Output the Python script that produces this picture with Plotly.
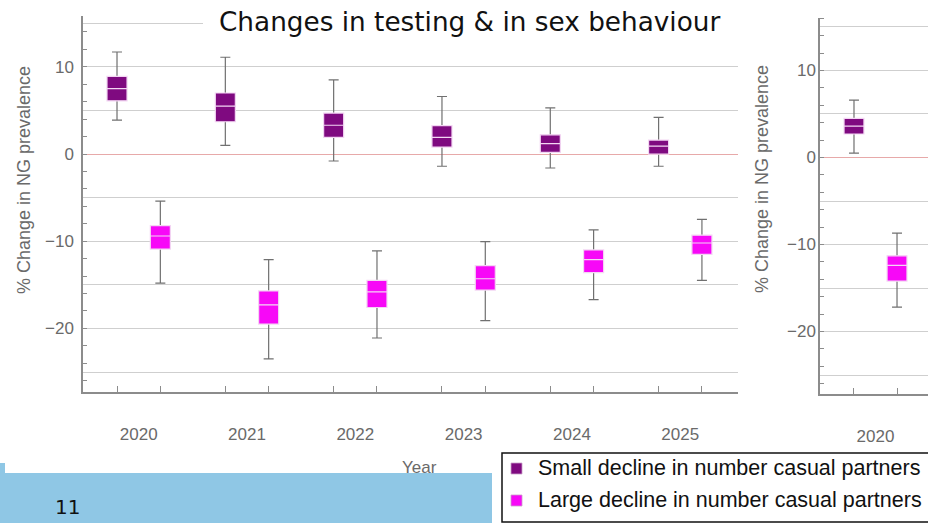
import plotly.graph_objects as go

# ---- data -------------------------------------------------------------
years = [2020, 2021, 2022, 2023, 2024, 2025]
year_labels = ["2020", "2021", "2022", "2023", "2024", "2025"]

series_names = [
    "Small decline in number casual partners",
    "Large decline in number casual partners",
]

# small decline in casual partners (box summary per year)
small_upper = [11.7, 11.1, 8.5, 6.6, 5.3, 4.2]
small_q3 = [8.9, 7.0, 4.7, 3.25, 2.2, 1.6]
small_median = [7.5, 5.5, 3.3, 1.9, 1.2, 0.9]
small_q1 = [6.1, 3.7, 1.9, 0.8, 0.2, 0.0]
small_lower = [3.9, 1.0, -0.8, -1.4, -1.6, -1.4]

# large decline in casual partners
large_upper = [-5.4, -12.1, -11.1, -10.05, -8.7, -7.5]
large_q3 = [-8.2, -15.7, -14.5, -12.8, -11.0, -9.3]
large_median = [-9.4, -17.3, -15.8, -14.3, -12.1, -10.2]
large_q1 = [-10.9, -19.5, -17.6, -15.6, -13.6, -11.5]
large_lower = [-14.8, -23.5, -21.1, -19.1, -16.7, -14.5]

# second scenario panel (first year only)
alt_years = [2020]
alt_year_labels = ["2020"]
alt_small_upper = [6.6]
alt_small_q3 = [4.5]
alt_small_median = [3.6]
alt_small_q1 = [2.7]
alt_small_lower = [0.5]
alt_large_upper = [-8.7]
alt_large_q3 = [-11.3]
alt_large_median = [-12.4]
alt_large_q1 = [-14.2]
alt_large_lower = [-17.2]

y_grid_vals = [-25, -20, -15, -10, -5, 0, 5, 10, 15]
y_label_vals = [-20, -10, 0, 10]

# ---- styling ------------------------------------------------------------
W, H = 928, 523
PURPLE = "#7f0a80"
MAGENTA = "#f708f7"
MEDIAN = "#f3d6f3"
WHISKER = "#707070"
AXIS = "#8c8c8c"
GRID = "#cfcfcf"
ZERO = "#e7a9a9"
TICKTXT = "#6a6a6a"
BAND = "#8fc7e5"
OFFSET = 0.2
BOXW = 0.185


def px(x):
    return x / W


def py(y):
    return 1 - y / H


def fmt(v):
    return str(v).replace("-", "\u2212")


fig = go.Figure()


def add_series(xs, upper, q3, med, q1, lower, color, offset, xa, ya):
    pos = [x + offset for x in xs]
    # whiskers with caps
    fig.add_trace(go.Box(
        x=pos, q1=med, median=med, q3=med, lowerfence=lower, upperfence=upper,
        line=dict(color=WHISKER, width=1.2), fillcolor="rgba(0,0,0,0)",
        whiskerwidth=0.5, width=BOXW, boxpoints=False, showlegend=False,
        hoverinfo="skip", xaxis=xa, yaxis=ya,
    ))
    # filled interquartile box with light median bar
    fig.add_trace(go.Box(
        x=pos, q1=q1, median=med, q3=q3, lowerfence=q1, upperfence=q3,
        line=dict(color=MEDIAN, width=1.2), fillcolor=color,
        whiskerwidth=0, width=BOXW, boxpoints=False, showlegend=False,
        xaxis=xa, yaxis=ya,
    ))


add_series(years, small_upper, small_q3, small_median, small_q1, small_lower,
           PURPLE, -OFFSET, "x", "y")
add_series(years, large_upper, large_q3, large_median, large_q1, large_lower,
           MAGENTA, OFFSET, "x", "y")
add_series(alt_years, alt_small_upper, alt_small_q3, alt_small_median,
           alt_small_q1, alt_small_lower, PURPLE, -OFFSET, "x2", "y2")
add_series(alt_years, alt_large_upper, alt_large_q3, alt_large_median,
           alt_large_q1, alt_large_lower, MAGENTA, OFFSET, "x2", "y2")

tickfont = dict(family="Liberation Sans, Arial, sans-serif", size=17, color=TICKTXT)


def x_axis(domain, rng, xs, labels, anchor):
    box_pos = sorted([x - OFFSET for x in xs] + [x + OFFSET for x in xs])
    return dict(
        domain=domain, range=rng, anchor=anchor,
        showline=True, linecolor=AXIS, linewidth=1.5,
        showgrid=False, zeroline=False,
        tickmode="array", tickvals=xs, ticktext=labels, ticks="",
        ticklabelstandoff=26, tickfont=tickfont,
        minor=dict(tickmode="array", tickvals=box_pos, ticks="inside",
                   ticklen=6, tickcolor=AXIS, tickwidth=1.2, showgrid=False),
    )


def y_axis(domain, rng, anchor, standoff):
    return dict(
        domain=domain, range=rng, anchor=anchor,
        showline=True, linecolor=AXIS, linewidth=1.5,
        showgrid=True, gridcolor=GRID, gridwidth=1,
        zeroline=True, zerolinecolor=ZERO, zerolinewidth=1.2,
        tickmode="array", tickvals=y_grid_vals,
        ticktext=[fmt(v) if v in y_label_vals else "" for v in y_grid_vals],
        ticks="", ticklabelstandoff=standoff, tickfont=tickfont,
        minor=dict(tickmode="linear", tick0=0, dtick=2, ticks="inside",
                   ticklen=4, tickcolor=AXIS, tickwidth=1.2, showgrid=False),
    )


fig.update_layout(
    width=W, height=H, margin=dict(l=0, r=0, t=0, b=0),
    paper_bgcolor="white", plot_bgcolor="white",
    showlegend=False, boxmode="overlay",
    xaxis=x_axis([px(83), px(738)], [2019.486, 2025.533], years, year_labels, "y"),
    yaxis=y_axis([py(392), py(16)], [-27.29, 15.83], "x", 4),
    xaxis2=x_axis([px(820), 1.0], [2019.484, 2020.488], alt_years, alt_year_labels, "y2"),
    yaxis2=y_axis([py(394), py(18)], [-27.18, 16.03], "x2", -1),
)

shapes = [
    # backdrop behind the title, hides the top gridline
    dict(type="rect", xref="paper", yref="paper", x0=px(203), x1=px(745),
         y0=py(42), y1=py(3), fillcolor="white", line=dict(width=0), layer="above"),
    # footer band
    dict(type="rect", xref="paper", yref="paper", x0=0, x1=px(492),
         y0=py(H + 2), y1=py(473), fillcolor=BAND, line=dict(width=0), layer="above"),
    dict(type="rect", xref="paper", yref="paper", x0=0, x1=px(5),
         y0=py(474), y1=py(463), fillcolor=BAND, line=dict(width=0), layer="above"),
    # legend frame
    dict(type="rect", xref="paper", yref="paper", x0=px(502), x1=px(945),
         y0=py(522), y1=py(453), fillcolor="white",
         line=dict(color="#111111", width=1.5), layer="above"),
]

annotations = [
    dict(text="Changes in testing &amp; in sex behaviour", x=px(469), y=py(22),
         xref="paper", yref="paper", showarrow=False, xanchor="center", yanchor="middle",
         font=dict(family="DejaVu Sans, Verdana, sans-serif", size=26.3, color="#111111")),
    dict(text="% Change in NG prevalence", x=px(24), y=py(180), textangle=-90,
         xref="paper", yref="paper", showarrow=False, xanchor="center", yanchor="middle",
         font=dict(family="Liberation Sans, Arial, sans-serif", size=18, color=TICKTXT)),
    dict(text="% Change in NG prevalence", x=px(762), y=py(179), textangle=-90,
         xref="paper", yref="paper", showarrow=False, xanchor="center", yanchor="middle",
         font=dict(family="Liberation Sans, Arial, sans-serif", size=18, color=TICKTXT)),
    dict(text="Year", x=px(419), y=py(467), xref="paper", yref="paper",
         showarrow=False, xanchor="center", yanchor="middle",
         font=dict(family="Liberation Sans, Arial, sans-serif", size=17, color=TICKTXT)),
    dict(text="11", x=px(67), y=py(507), xref="paper", yref="paper",
         showarrow=False, xanchor="center", yanchor="middle",
         font=dict(family="DejaVu Sans, sans-serif", size=20, color="#111111")),
]

legend_rows = [468, 500]
for name, color, row in zip(series_names, [PURPLE, MAGENTA], legend_rows):
    shapes.append(dict(type="rect", xref="paper", yref="paper",
                       x0=px(511), x1=px(522), y0=py(row + 6), y1=py(row - 5),
                       fillcolor=color, line=dict(color="#c9a0c9", width=0.8),
                       layer="above"))
    annotations.append(dict(text=name, x=px(536), y=py(row), xref="paper", yref="paper",
                            showarrow=False, xanchor="left", yanchor="middle",
                            font=dict(family="Liberation Sans, Arial, sans-serif",
                                      size=21.5, color="#111111")))

fig.update_layout(shapes=shapes, annotations=annotations)

fig.write_html("out.html")
